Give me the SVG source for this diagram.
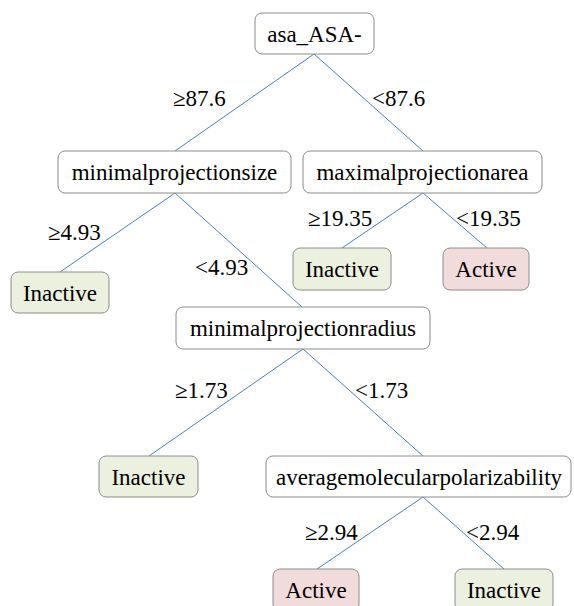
<svg xmlns="http://www.w3.org/2000/svg" width="574" height="606" viewBox="0 0 574 606">
<style>
.box{fill:#ffffff;stroke:#8c8c8c;stroke-width:1}
.ina{fill:#ebf0df;stroke:#8c8c8c;stroke-width:1}
.act{fill:#f2dcdb;stroke:#8c8c8c;stroke-width:1}
.c{text-anchor:middle}
.e{stroke:#4a7ebb;stroke-width:1;fill:none}
</style>
<rect width="574" height="606" fill="#ffffff"/>
<g id="connectors">
<line class="e" x1="314" y1="54" x2="175" y2="151"/>
<line class="e" x1="314" y1="54" x2="423" y2="151"/>
<line class="e" x1="175" y1="193" x2="60" y2="272"/>
<line class="e" x1="175" y1="193" x2="302" y2="307"/>
<line class="e" x1="423" y1="193" x2="342" y2="248"/>
<line class="e" x1="423" y1="193" x2="487" y2="248"/>
<line class="e" x1="303" y1="349" x2="149" y2="456"/>
<line class="e" x1="303" y1="349" x2="423" y2="456"/>
<line class="e" x1="423" y1="497" x2="317" y2="569"/>
<line class="e" x1="423" y1="497" x2="504" y2="569"/>
</g>
<g font-family="Liberation Serif, Tinos, Times New Roman, Times, serif" font-size="23" fill="#000">
<g id="edge-labels">
<text x="173" y="106">≥87.6</text>
<text x="372" y="106">&lt;87.6</text>
<text x="48" y="240">≥4.93</text>
<text x="195" y="275">&lt;4.93</text>
<text x="308" y="226">≥19.35</text>
<text x="456" y="226">&lt;19.35</text>
<text x="175" y="398">≥1.73</text>
<text x="355" y="398">&lt;1.73</text>
<text x="305" y="540">≥2.94</text>
<text x="466" y="540">&lt;2.94</text>
</g>
<g id="root"><rect class="box" x="255" y="13" width="119" height="41" rx="7"/><text class="c" x="314.5" y="41.5">asa_ASA-</text></g>
<g id="minsize"><rect class="box" x="58" y="151" width="233" height="42" rx="7"/><text class="c" x="174.5" y="180">minimalprojectionsize</text></g>
<g id="maxarea"><rect class="box" x="303" y="151" width="239" height="42" rx="7"/><text class="c" x="422.5" y="180">maximalprojectionarea</text></g>
<g id="inactive1"><rect class="ina" x="293" y="248" width="98" height="42" rx="7"/><text class="c" x="342" y="277">Inactive</text></g>
<g id="active1"><rect class="act" x="443" y="248" width="86" height="42" rx="7"/><text class="c" x="486" y="277">Active</text></g>
<g id="inactive2"><rect class="ina" x="11" y="272" width="98" height="41" rx="7"/><text class="c" x="60" y="300.5">Inactive</text></g>
<g id="minradius"><rect class="box" x="176" y="307" width="254" height="42" rx="7"/><text class="c" x="303" y="336">minimalprojectionradius</text></g>
<g id="inactive3"><rect class="ina" x="99" y="456" width="99" height="41" rx="7"/><text class="c" x="148.5" y="484.5">Inactive</text></g>
<g id="avgpol"><rect class="box" x="266" y="456" width="305" height="41" rx="7"/><text class="c" x="419" y="484.5">averagemolecularpolarizability</text></g>
<g id="active2"><rect class="act" x="273" y="569" width="86" height="42" rx="7"/><text class="c" x="316" y="598">Active</text></g>
<g id="inactive4"><rect class="ina" x="455" y="569" width="98" height="42" rx="7"/><text class="c" x="504" y="598">Inactive</text></g>
</g>
</svg>
